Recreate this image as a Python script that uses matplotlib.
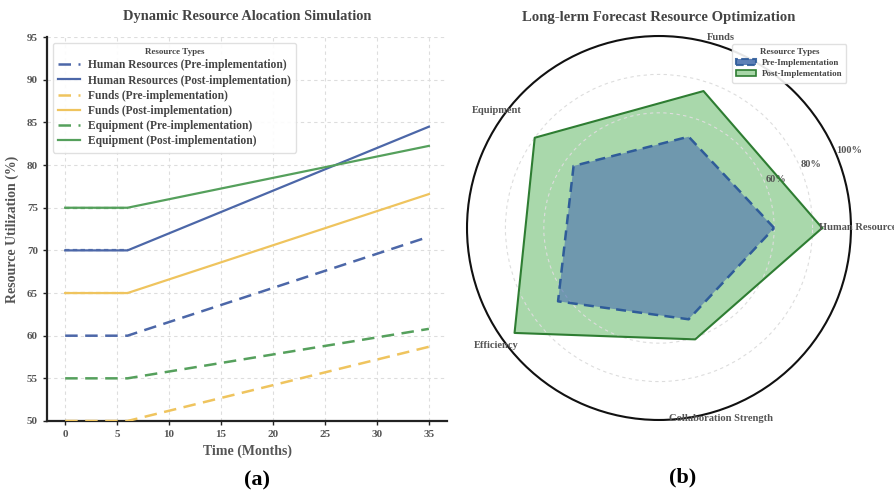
import numpy as np
import matplotlib
matplotlib.use("Agg")
import matplotlib.pyplot as plt
from matplotlib.patches import Patch

plt.rcParams['font.family'] = ['Liberation Serif', 'DejaVu Serif']
plt.rcParams['font.weight'] = 'bold'

# ---------------- data: line chart ----------------
months = [0, 6, 35]
hr_pre = [60, 60, 71.6]
hr_post = [70, 70, 84.5]
funds_pre = [50, 50, 58.7]
funds_post = [65, 65, 76.6]
equip_pre = [55, 55, 60.8]
equip_post = [75, 75, 82.25]
x_ticks = [0, 5, 10, 15, 20, 25, 30, 35]
y_ticks = [50, 55, 60, 65, 70, 75, 80, 85, 90, 95]

# ---------------- data: radar chart ----------------
radar_categories = ["Human Resources", "Funds", "Equipment", "Efficiency", "Collaboration Strength"]
radar_pre = [60, 50, 55, 65, 50]
radar_post = [85, 75, 80, 93, 61]
r_ticks = [60, 80, 100]
r_tick_labels = ["60%", "80%", "100%"]

BLUE = "#4C67A8"
GOLD = "#EFC45E"
GREEN = "#55A05C"
GREY = "#555555"

fig = plt.figure(figsize=(8.95, 4.95), dpi=100)

# ================= left: line chart =================
ax = fig.add_axes([0.0525, 0.1495, 0.447, 0.7755])
series = [
    ("Human Resources (Pre-implementation)", hr_pre, BLUE, True),
    ("Human Resources (Post-implementation)", hr_post, BLUE, False),
    ("Funds (Pre-implementation)", funds_pre, GOLD, True),
    ("Funds (Post-implementation)", funds_post, GOLD, False),
    ("Equipment (Pre-implementation)", equip_pre, GREEN, True),
    ("Equipment (Post-implementation)", equip_post, GREEN, False),
]
for label, vals, col, dashed in series:
    if dashed:
        ax.plot(months, vals, color=col, lw=1.8, ls=(0, (5, 3)), label=label, zorder=3)
    else:
        ax.plot(months, vals, color=col, lw=1.6, ls='-', label=label, zorder=3)
        ax.plot(months[:2], vals[:2], color=col, lw=1.6, ls=(0, (2, 1.5)), zorder=4,
                alpha=0.9)

ax.set_xlim(-1.75, 36.75)
ax.set_ylim(50, 95)
ax.set_xticks(x_ticks)
ax.set_yticks(y_ticks)
ax.grid(True, ls=(0, (3, 3)), color="#DDDDDD", lw=0.8)
ax.set_axisbelow(True)
for s in ['top', 'right']:
    ax.spines[s].set_visible(False)
for s in ['left', 'bottom']:
    ax.spines[s].set_color('#222222')
    ax.spines[s].set_linewidth(1.6)
ax.tick_params(labelsize=8, colors=GREY, length=3, width=1)
ax.tick_params(axis='both', color='#222222')
ax.set_xlabel("Time (Months)", fontsize=10, color=GREY, fontweight='bold', labelpad=4)
ax.set_ylabel("Resource Utilization (%)", fontsize=10, color=GREY, fontweight='bold', labelpad=6)
ax.set_title("Dynamic Resource Alocation Simulation", fontsize=10.4, color="#444444",
             fontweight='bold', pad=12)
leg = ax.legend(loc='upper left', title="Resource Types", fontsize=8.3, title_fontsize=6.5,
                frameon=True, framealpha=0.9, edgecolor="#DDDDDD", borderpad=0.45,
                labelspacing=0.28, handlelength=1.9, handletextpad=0.7,
                bbox_to_anchor=(0.0, 1.0))
for t in leg.get_texts():
    t.set_color("#444444")
leg.get_title().set_color("#444444")

fig.text(0.287, 0.03, "(a)", fontsize=16, fontweight='bold', ha='center', va='center')

# ================= right: radar chart =================
pax = fig.add_axes([0.5218, 0.1515, 0.429, 0.7758], projection='polar')
n = len(radar_categories)
angles = np.linspace(0, 2 * np.pi, n, endpoint=False)
ang_closed = np.concatenate([angles, angles[:1]])
post_c = radar_post + radar_post[:1]
pre_c = radar_pre + radar_pre[:1]

pax.fill(ang_closed, post_c, color="#4CAF50", alpha=0.48, zorder=1, lw=0)
pax.plot(ang_closed, post_c, color="#2E7D32", lw=1.5, zorder=2)
pax.fill(ang_closed, pre_c, color="#4C72B0", alpha=0.62, zorder=3, lw=0)
pax.plot(ang_closed, pre_c, color="#2F5C99", lw=1.8, ls=(0, (4, 2.5)), zorder=4)

pax.set_ylim(0, 100)
pax.set_yticks(r_ticks)
pax.set_yticklabels(r_tick_labels, fontsize=7.5, color=GREY, fontweight='bold')
pax.set_rlabel_position(22.5)
pax.set_xticks(angles)
pax.set_xticklabels([])
pax.xaxis.grid(False)
pax.yaxis.grid(True, ls=(0, (3, 3)), color="#DDDDDD", lw=0.8)
pax.spines['polar'].set_color('#111111')
pax.spines['polar'].set_linewidth(1.5)
for a, lab in zip(angles, radar_categories):
    pax.text(a, 104.5, lab, ha='center', va='center', fontsize=7.6, color=GREY,
             fontweight='bold', zorder=6, clip_on=False)

pax.set_title("Long-lerm Forecast Resource Optimization", fontsize=10.6, color="#444444",
              fontweight='bold', pad=11)
handles = [
    Patch(facecolor="#4C72B0", alpha=0.9, edgecolor="#2F5C99", ls='--', lw=1.5,
          label="Pre-Implementation"),
    Patch(facecolor="#A8D6A8", edgecolor="#2E7D32", lw=1.2, label="Post-Implementation"),
]
leg2 = pax.legend(handles=handles, loc='upper right', title="Resource Types", fontsize=6.5,
                  title_fontsize=6.5, frameon=True, edgecolor="#DDDDDD", framealpha=0.9,
                  bbox_to_anchor=(1.0, 0.99), borderpad=0.45, labelspacing=0.3,
                  handlelength=2.2, handletextpad=0.6)
for t in leg2.get_texts():
    t.set_color("#444444")
leg2.get_title().set_color("#444444")

fig.text(0.763, 0.036, "(b)", fontsize=16, fontweight='bold', ha='center', va='center')

fig.savefig("out.png", dpi=100)
